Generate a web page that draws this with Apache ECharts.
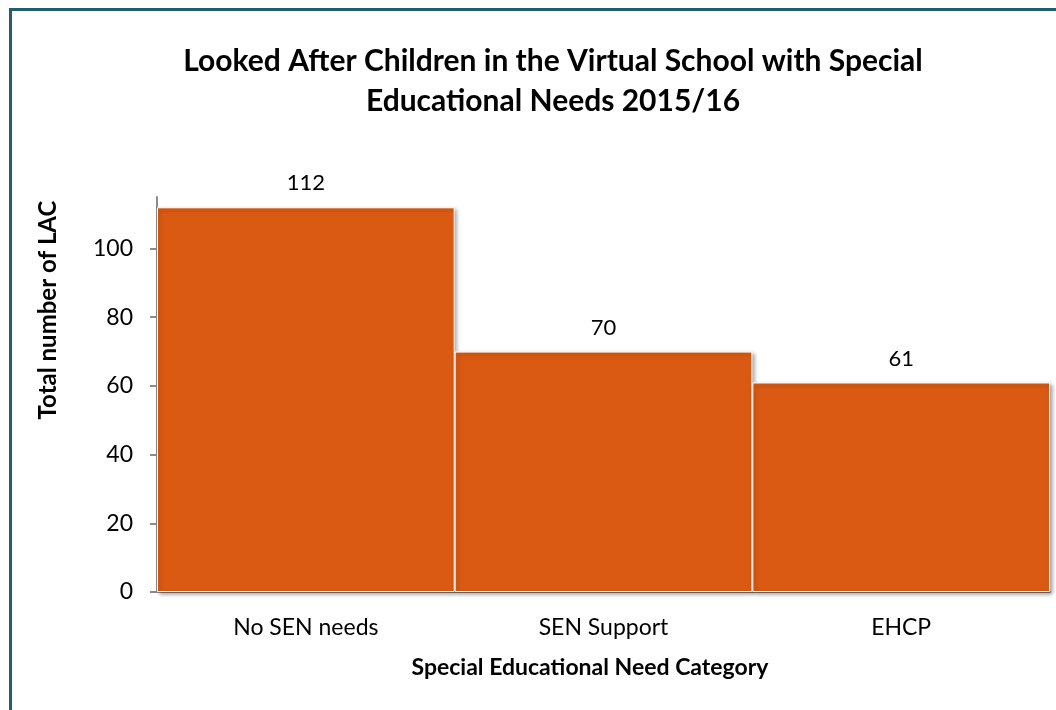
<!DOCTYPE html>
<html>
<head>
<meta charset="utf-8">
<script src="https://cdn.jsdelivr.net/npm/echarts@6/dist/echarts.min.js"></script>
<style>
  html, body { margin: 0; padding: 0; background: #fff; }
  #frame { position: absolute; left: 9px; top: 8px; width: 1100px; height: 760px;
           border-top: 3px solid #215E6E; border-left: 3px solid #215E6E; }
  #chart { position: absolute; left: 0; top: 0; width: 1056px; height: 710px; }
</style>
</head>
<body>
<div id="frame"></div>
<div id="chart"></div>
<script>
const categories = ['No SEN needs', 'SEN Support', 'EHCP']
const totals = [112, 70, 61]
const yTicks = [0, 20, 40, 60, 80, 100]

const chart = echarts.init(document.getElementById('chart'))
const font = 'Lato, "Open Sans", sans-serif'

chart.setOption({
  animation: false,
  textStyle: { fontFamily: font },
  title: {
    text: 'Looked After Children in the Virtual School with Special\nEducational Needs 2015/16',
    left: 548, top: 36, textAlign: 'center',
    textStyle: { fontSize: 30, fontWeight: 'bold', color: '#000', lineHeight: 40, fontFamily: font },
  },
  grid: { left: 157, right: 6, top: 197, bottom: 118 },
  xAxis: {
    type: 'category',
    data: categories,
    axisLine: { lineStyle: { color: '#8c8c8c', width: 2 } },
    axisTick: { show: false },
    axisLabel: { color: '#000', fontSize: 23, margin: 24, fontFamily: font },
  },
  yAxis: {
    type: 'value',
    min: 0, max: 115,
    splitLine: { show: false },
    axisLine: { show: true, lineStyle: { color: '#8c8c8c', width: 2 } },
    axisTick: { show: true, length: 7, customValues: yTicks, lineStyle: { color: '#8c8c8c', width: 2 } },
    axisLabel: { color: '#000', fontSize: 23, margin: 24, customValues: yTicks, fontFamily: font },
  },
  graphic: [
    {
      type: 'text', x: 48, y: 310, rotation: Math.PI / 2,
      style: { text: 'Total number of LAC', fontSize: 24, fontWeight: 'bold', fill: '#000',
               align: 'center', verticalAlign: 'middle', fontFamily: font },
    },
    {
      type: 'text', x: 590, y: 668,
      style: { text: 'Special Educational Need Category', fontSize: 23, fontWeight: 'bold', fill: '#000',
               align: 'center', verticalAlign: 'middle', fontFamily: font },
    },
  ],
  series: [{
    type: 'bar',
    data: totals,
    barCategoryGap: '0%',
    itemStyle: {
      color: '#DB5A13',
      borderColor: '#fff', borderWidth: 1,
      shadowColor: 'rgba(0,0,0,0.35)', shadowBlur: 4, shadowOffsetX: 2, shadowOffsetY: 2,
    },
    label: { show: true, position: 'top', distance: 13, color: '#000', fontSize: 22, fontFamily: font },
  }],
})
</script>
</body>
</html>
